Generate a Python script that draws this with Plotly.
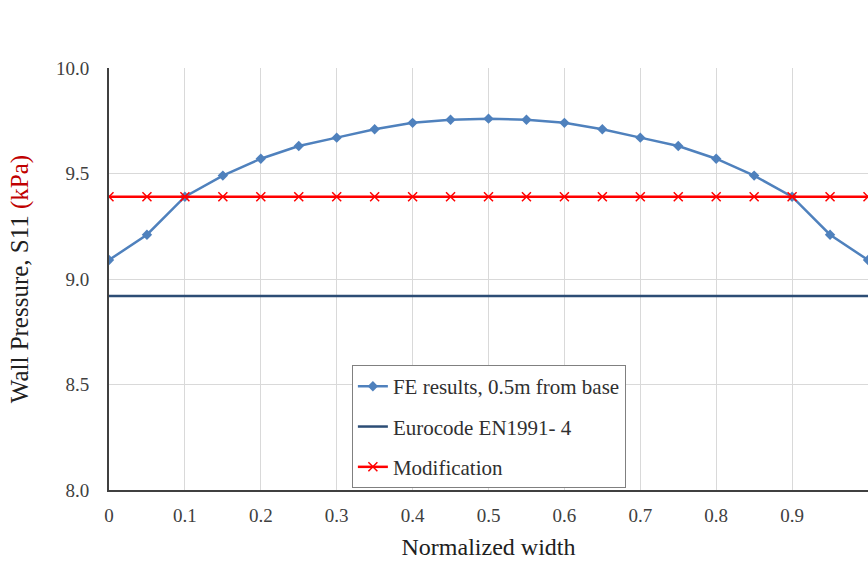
import plotly.graph_objects as go

x_vals = [0, 0.05, 0.1, 0.15, 0.2, 0.25, 0.3, 0.35, 0.4, 0.45, 0.5,
          0.55, 0.6, 0.65, 0.7, 0.75, 0.8, 0.85, 0.9, 0.95, 1.0]
fe_results = [9.09, 9.21, 9.39, 9.49, 9.57, 9.63, 9.67, 9.71, 9.74, 9.755, 9.76,
              9.755, 9.74, 9.71, 9.67, 9.63, 9.57, 9.49, 9.39, 9.21, 9.09]
eurocode = [8.92] * len(x_vals)
modification = [9.39] * len(x_vals)

x_ticks = [0, 0.1, 0.2, 0.3, 0.4, 0.5, 0.6, 0.7, 0.8, 0.9, 1.0]
x_ticktext = ["0", "0.1", "0.2", "0.3", "0.4", "0.5", "0.6", "0.7", "0.8", "0.9", "1"]
y_ticks = [8.0, 8.5, 9.0, 9.5, 10.0]
y_ticktext = ["8.0", "8.5", "9.0", "9.5", "10.0"]

FONT = "Liberation Serif, Times New Roman, serif"

fig = go.Figure()
fig.add_trace(go.Scatter(
    x=x_vals, y=fe_results, mode="lines+markers", name="FE results, 0.5m from base",
    line=dict(color="#4f81bd", width=2.5),
    marker=dict(symbol="diamond", size=8, color="#4f81bd"),
    legendgroup="a"))
fig.add_trace(go.Scatter(
    x=x_vals, y=eurocode, mode="lines", name="Eurocode EN1991- 4",
    line=dict(color="#2c4d75", width=2.5), legendgroup="b"))
fig.add_trace(go.Scatter(
    x=x_vals, y=modification, mode="lines+markers", name="Modification",
    line=dict(color="#ff0000", width=2.5),
    marker=dict(symbol="x-thin", size=9, line=dict(color="#ff0000", width=1.5)),
    legendgroup="c"))

fig.update_layout(
    width=868, height=561,
    margin=dict(l=109, r=0, t=68, b=71),
    paper_bgcolor="white", plot_bgcolor="white",
    font=dict(family=FONT, size=20, color="#404040"),
    showlegend=True,
    legend=dict(
        x=0.32, y=0.296, xanchor="left", yanchor="top",
        bgcolor="white", bordercolor="#808080", borderwidth=1,
        font=dict(family=FONT, size=21, color="#303030"),
        tracegroupgap=10,
        itemwidth=30,
    ),
    xaxis=dict(
        range=[0, 1.0], tickvals=x_ticks, ticktext=x_ticktext,
        showgrid=True, gridcolor="#d9d9d9", gridwidth=1,
        showline=True, linecolor="#404040", linewidth=2,
        zeroline=False, ticks="", tickfont=dict(size=19, color="#404040"),
        ticklabelstandoff=7,
        title=dict(text="Normalized width", font=dict(size=24, color="#202020"), standoff=13),
    ),
    yaxis=dict(
        range=[8.0, 10.0], tickvals=y_ticks, ticktext=y_ticktext,
        showgrid=True, gridcolor="#d9d9d9", gridwidth=1,
        showline=True, linecolor="#404040", linewidth=2,
        zeroline=False, ticks="", tickfont=dict(size=19, color="#404040"),
        ticklabelstandoff=14,
        title=dict(text="Wall Pressure, S11 <span style='color:#c00000'>(kPa)</span>",
                   font=dict(size=25, color="#202020"), standoff=20),
    ),
)

fig.write_html("out.html")
